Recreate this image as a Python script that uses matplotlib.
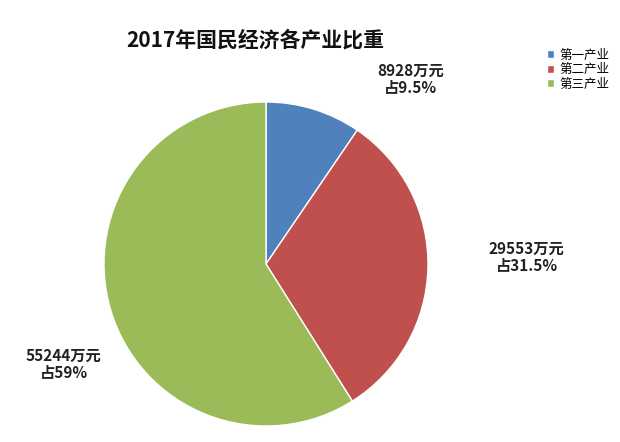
import numpy as np
import matplotlib
matplotlib.use("Agg")
import matplotlib.pyplot as plt

plt.rcParams['font.family'] = ['Noto Sans CJK SC', 'DejaVu Sans']

industries = ['第一产业', '第二产业', '第三产业']
values = [8928, 29553, 55244]
shares = ['9.5%', '31.5%', '59%']
colors = ['#4F81BD', '#C0504D', '#9BBB59']
# label anchor points, in units of pie radius
label_pos = [(0.89, 1.14), (1.61, 0.04), (-1.25, -0.62)]

fig = plt.figure(figsize=(6.2, 4.42), dpi=100)
ax = fig.add_axes([104 / 620, 16 / 442, 324 / 620, 324 / 442])

wedges, _ = ax.pie(values, colors=colors, startangle=90, counterclock=False,
                   radius=1.0, wedgeprops=dict(edgecolor='white', linewidth=1))
ax.set_xlim(-1, 1)
ax.set_ylim(-1, 1)
ax.set_aspect('equal')

for v, s, (x, y) in zip(values, shares, label_pos):
    ax.text(x, y, f'{v}万元\n占{s}', ha='center', va='center',
            fontsize=11, fontweight='bold', linespacing=1.15, color='#222222')

fig.text(255 / 620, 1 - 40 / 442, '2017年国民经济各产业比重', ha='center',
         va='center', fontsize=15, fontweight='bold', color='#111111')

leg = fig.legend(wedges, industries, loc='upper left',
                 bbox_to_anchor=(538 / 620, 1 - 40 / 442), frameon=False,
                 fontsize=9, handlelength=0.6, handleheight=0.6,
                 handletextpad=0.4, labelspacing=0.12, borderpad=0.2)

fig.savefig('out.png', dpi=100)
